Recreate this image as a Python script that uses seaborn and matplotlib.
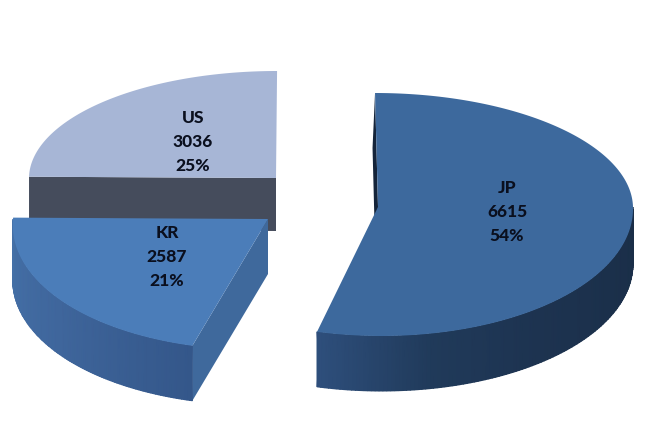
import matplotlib.pyplot as plt
import numpy as np
import seaborn as sns

# data
countries = ['JP', 'KR', 'US']
sales = [6615, 2587, 3036]

# colours per slice
top_colors = ['#3D699D', '#4B7DB9', '#A7B6D6']
wall_colors = [['#1A2E48', '#1B304B', '#1D3350', '#203A5A', '#2E4F7C'], ['#34578A', '#3F669C', '#4571A8'], ['#454C5C']]
cut_colors = ['#14243A', '#3F699C', '#454C5C']

# layout of the exploded slices, in pixels of the figure
apex = [(378, 207), (268, 219), (276, 178)]
radius_x = [255, 255, 247]
radius_back = [114, 114, 107]
radius_front = [129, 131, 125]
shear = [0.026, -0.09, -0.01]
depth = [55, 55, 53]
label_pos = [(507, 212), (167, 257), (193, 142)]

sns.set_theme(style='white')
plt.rcParams['font.family'] = ['Lato', 'DejaVu Sans']

fig = plt.figure(figsize=(6.55, 4.47), dpi=100)
ax = fig.add_axes([0, 0, 1, 1])
ax.set_xlim(0, 655)
ax.set_ylim(447, 0)
ax.axis('off')

total = sum(sales)
edges = np.concatenate([[0], np.cumsum(sales)]) / total * 2 * np.pi


def rim(i, theta):
    y = -np.cos(theta)
    y = y * np.where(y < 0, radius_back[i], radius_front[i])
    x = radius_x[i] * np.sin(theta) + shear[i] * y
    return apex[i][0] + x, apex[i][1] + y


# back to front so the nearer slices cover the walls behind them
for i in [2, 1, 0]:
    start, end = edges[i], edges[i + 1]
    cx, cy = apex[i]
    d = depth[i]
    z = 6 - i * 3

    # cut faces
    x0, y0 = rim(i, start)
    if i == 0:
        ax.fill([x0, cx, cx - 2.5, x0 - 2.5], [y0, cy, cy + d, y0 + d], color=cut_colors[i], lw=0, zorder=z)
    else:
        ax.fill([cx, x0, x0, cx], [cy, y0, y0 + d, cy + d], color=cut_colors[i], lw=0, zorder=z)

    # rim wall, only the part that faces the viewer
    lo = max(start, np.pi / 2)
    hi = min(end, 3 * np.pi / 2)
    if lo < hi and i != 2:
        steps = np.linspace(lo, hi, 120)
        xa, ya = rim(i, steps)
        grid_x = np.vstack([xa, xa])
        grid_y = np.vstack([ya, ya + d])
        shade = np.vstack([steps, steps])
        ax.pcolormesh(grid_x, grid_y, shade, shading='gouraud', zorder=z,
                      cmap=sns.blend_palette(wall_colors[i], as_cmap=True))

    # top face
    theta = np.linspace(start, end, 200)
    xs, ys = rim(i, theta)
    ax.fill(np.r_[cx, xs], np.r_[cy, ys], color=top_colors[i], lw=0, zorder=z + 1)

    pct = sales[i] / total * 100
    ax.text(label_pos[i][0], label_pos[i][1], f'{countries[i]}\n{sales[i]}\n{pct:.0f}%', ha='center', va='center',
            fontsize=12.5, fontweight='black', color='#0A0F1E', linespacing=1.6, zorder=20)

ax.set_xlim(0, 655)
ax.set_ylim(447, 0)
fig.savefig('out.png', dpi=100)
